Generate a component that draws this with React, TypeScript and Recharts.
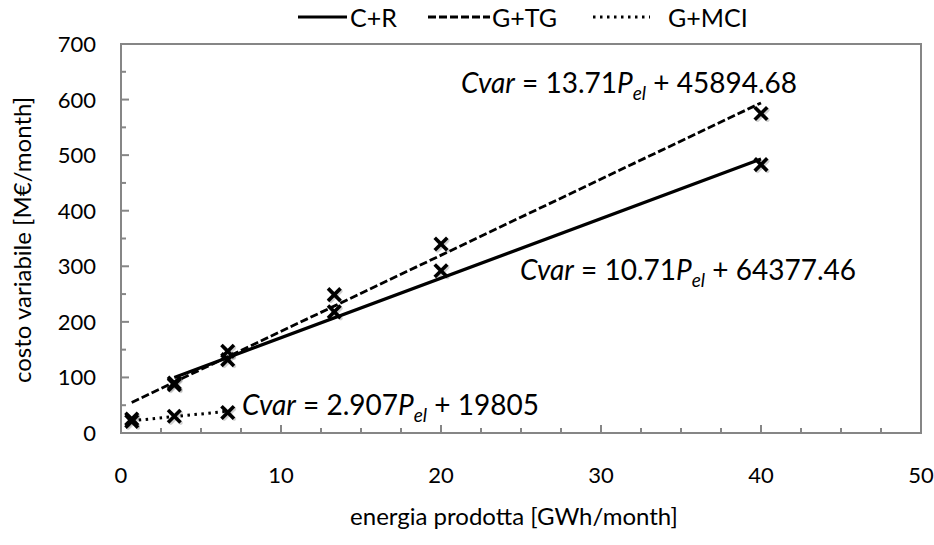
import React from "react";
import {
  ComposedChart,
  Line,
  Scatter,
  XAxis,
  YAxis,
  ReferenceArea,
  Legend,
  Customized,
} from "recharts";

// energia prodotta [GWh/month] -> costo variabile [M€/month]
const crEnergy = [3.33, 6.67, 13.33, 20, 40];
const crCost = [87, 132, 218, 292, 483];
const tgEnergy = [0.67, 3.33, 6.67, 13.33, 20, 40];
const tgCost = [25, 90, 147, 249, 340, 575];
const mciEnergy = [0.67, 3.33, 6.67];
const mciCost = [21, 30, 37];

// trend line end points
const crTrendEnergy = [3.33, 40];
const crTrendCost = [100, 493];
const tgTrendEnergy = [0.67, 40];
const tgTrendCost = [55, 594];
const mciTrendEnergy = [0.67, 6.67];
const mciTrendCost = [22, 39];

const xTicks = [0, 2.5, 5, 7.5, 10, 12.5, 15, 17.5, 20, 22.5, 25, 27.5, 30, 32.5, 35, 37.5, 40, 42.5, 45, 47.5, 50];
const yTicks = [0, 50, 100, 150, 200, 250, 300, 350, 400, 450, 500, 550, 600, 650, 700];

const seriesNames = ["C+R", "G+TG", "G+MCI"];

const FONT = "Lato, 'Open Sans', sans-serif";
const AXIS = "#868686";

const zip = (xs: number[], ys: number[]) => xs.map((x, i) => ({ x, y: ys[i] }));

const crPoints = zip(crEnergy, crCost);
const tgPoints = zip(tgEnergy, tgCost);
const mciPoints = zip(mciEnergy, mciCost);
const crTrend = zip(crTrendEnergy, crTrendCost);
const tgTrend = zip(tgTrendEnergy, tgTrendCost);
const mciTrend = zip(mciTrendEnergy, mciTrendCost);

const XMark = (props: any) => {
  const { cx, cy } = props;
  if (cx == null || cy == null) return null;
  const s = 5;
  return (
    <g>
      <g stroke="#000" strokeOpacity={0.18} strokeWidth={4} strokeLinecap="round">
        <line x1={cx - s + 1.5} y1={cy - s + 1.5} x2={cx + s + 1.5} y2={cy + s + 1.5} />
        <line x1={cx - s + 1.5} y1={cy + s + 1.5} x2={cx + s + 1.5} y2={cy - s + 1.5} />
      </g>
      <g stroke="#000" strokeWidth={3.6} strokeLinecap="square">
        <line x1={cx - s} y1={cy - s} x2={cx + s} y2={cy + s} />
        <line x1={cx - s} y1={cy + s} x2={cx + s} y2={cy - s} />
      </g>
    </g>
  );
};

const XTick = (props: any) => {
  const { x, y, payload } = props;
  const v = payload.value;
  const major = v % 10 === 0;
  return (
    <g>
      <line x1={x} x2={x} y1={y} y2={y - (major ? 8 : 5)} stroke={AXIS} strokeWidth={2} />
      {major && (
        <text x={x} y={y + 50} textAnchor="middle" fontFamily={FONT} fontSize={22} fill="#000">
          {v}
        </text>
      )}
    </g>
  );
};

const YTick = (props: any) => {
  const { x, y, payload } = props;
  const v = payload.value;
  const major = v % 100 === 0;
  return (
    <g>
      <line x1={x} x2={x + (major ? 8 : 5)} y1={y} y2={y} stroke={AXIS} strokeWidth={2} />
      {major && (
        <text x={x - 25} y={y + 8} textAnchor="end" fontFamily={FONT} fontSize={22} fill="#000">
          {v}
        </text>
      )}
    </g>
  );
};

const LegendBox = () => (
  <svg width={934} height={34} style={{ display: "block" }}>
    <g fontFamily={FONT} fontSize={25} fill="#000">
      <line x1={298} x2={347} y1={17} y2={17} stroke="#000" strokeWidth={3.2} />
      <text x={350} y={27}>{seriesNames[0]}</text>
      <line x1={428} x2={490} y1={17} y2={17} stroke="#000" strokeWidth={3} strokeDasharray="8 3" />
      <text x={492} y={27}>{seriesNames[1]}</text>
      <line x1={593} x2={650} y1={17} y2={17} stroke="#000" strokeWidth={3} strokeDasharray="2.5 4.5" />
      <text x={668} y={27}>{seriesNames[2]}</text>
    </g>
  </svg>
);

const Equation = ({ x, y, anchor, slope, intercept }: any) => (
  <text x={x} y={y} textAnchor={anchor}>
    <tspan fontStyle="italic">Cvar</tspan> = {slope}
    <tspan fontStyle="italic">P</tspan>
    <tspan fontStyle="italic" fontSize={19} dy={7}>el</tspan>
    <tspan dy={-7}> + {intercept}</tspan>
  </text>
);

const Annotations = () => (
  <g fontFamily={FONT} fontSize={28} fill="#000">
    <Equation x={797} y={93} anchor="end" slope="13.71" intercept="45894.68" />
    <Equation x={520} y={280} anchor="start" slope="10.71" intercept="64377.46" />
    <Equation x={242} y={415} anchor="start" slope="2.907" intercept="19805" />
    <text x={514} y={525} textAnchor="middle" fontSize={24}>
      energia prodotta [GWh/month]
    </text>
    <text x={31} y={240} textAnchor="middle" fontSize={24} transform="rotate(-90 31 240)">
      costo variabile [M€/month]
    </text>
  </g>
);

export default function App() {
  return (
    <div style={{ position: "absolute", left: 0, top: 0, width: 934, height: 545, background: "#fff" }}>
      <ComposedChart width={934} height={545} margin={{ top: 10, right: 13, bottom: 0, left: 0 }}>
        <Legend
          verticalAlign="top"
          align="left"
          content={() => <LegendBox />}
          wrapperStyle={{ top: 0, left: 0, width: 934, height: 34 }}
        />
        <XAxis
          type="number"
          dataKey="x"
          domain={[0, 50]}
          ticks={xTicks}
          interval={0}
          height={112}
          axisLine={false}
          tickLine={false}
          tickSize={0}
          tickMargin={0}
          tick={<XTick />}
        />
        <YAxis
          type="number"
          dataKey="y"
          domain={[0, 700]}
          ticks={yTicks}
          interval={0}
          width={121}
          axisLine={false}
          tickLine={false}
          tickSize={0}
          tickMargin={0}
          tick={<YTick />}
        />
        <ReferenceArea x1={0} x2={50} y1={0} y2={700} fill="none" stroke={AXIS} strokeWidth={2} />
        <Line data={crTrend} dataKey="y" name={seriesNames[0]} stroke="#000" strokeWidth={3.2} dot={false} isAnimationActive={false} />
        <Line data={tgTrend} dataKey="y" name={seriesNames[1]} stroke="#000" strokeWidth={2.8} strokeDasharray="8 3" dot={false} isAnimationActive={false} />
        <Line data={mciTrend} dataKey="y" name={seriesNames[2]} stroke="#000" strokeWidth={3} strokeDasharray="2.5 4.5" dot={false} isAnimationActive={false} />
        <Scatter data={crPoints} dataKey="y" shape={<XMark />} isAnimationActive={false} legendType="none" />
        <Scatter data={tgPoints} dataKey="y" shape={<XMark />} isAnimationActive={false} legendType="none" />
        <Scatter data={mciPoints} dataKey="y" shape={<XMark />} isAnimationActive={false} legendType="none" />
        <Customized component={<Annotations />} />
      </ComposedChart>
    </div>
  );
}
